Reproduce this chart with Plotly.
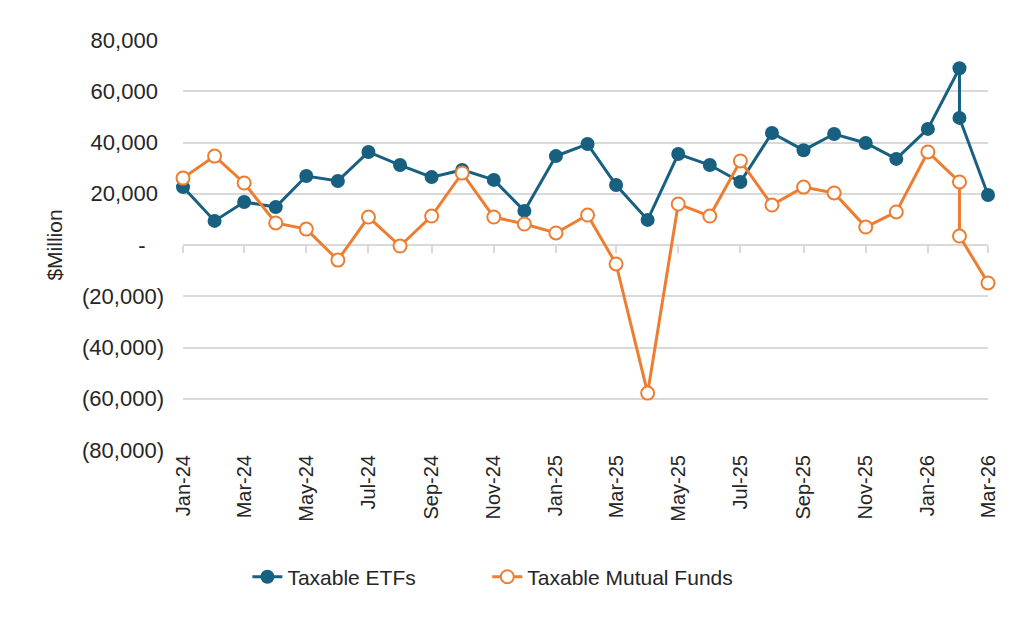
import plotly.graph_objects as go

# monthly flows, $Million (Feb-26 has two readings)
months = ['2024-01', '2024-02', '2024-03', '2024-04', '2024-05', '2024-06', '2024-07',
          '2024-08', '2024-09', '2024-10', '2024-11', '2024-12', '2025-01', '2025-02',
          '2025-03', '2025-04', '2025-05', '2025-06', '2025-07', '2025-08', '2025-09',
          '2025-10', '2025-11', '2025-12', '2026-01', '2026-02', '2026-02', '2026-03']
etfs = [22600, 9400, 16800, 14800, 26900, 25000, 36300, 31200, 26500, 29300, 25400, 13300,
        34700, 39400, 23400, 9800, 35500, 31200, 24600, 43700, 37000, 43300, 39800, 33600,
        45300, 69000, 49600, 19500]
mutual_funds = [26100, 34700, 24200, 8600, 6200, -5900, 10900, -400, 11300, 28100, 10900, 8200,
                4700, 11700, -7400, -57800, 16000, 11300, 32800, 15600, 22600, 20300, 7000, 12900,
                36300, 24600, 3500, -14800]

y_ticks = [80000, 60000, 40000, 20000, 0, -20000, -40000, -60000, -80000]
# accounting style: positives padded where the closing paren would sit
y_labels = ['80,000\u00a0', '60,000\u00a0', '40,000\u00a0', '20,000\u00a0', '-\u00a0\u00a0\u00a0',
            '(20,000)', '(40,000)', '(60,000)', '(80,000)']

blue = '#17607f'
orange = '#ed7d31'
grid = '#d9d9d9'
font = 'Liberation Sans, Arial, sans-serif'

fig = go.Figure()
fig.add_trace(go.Scatter(x=months, y=etfs, name='Taxable ETFs', mode='lines+markers',
                         line=dict(color=blue, width=3),
                         marker=dict(color=blue, size=14), cliponaxis=False,
                         legend='legend'))
fig.add_trace(go.Scatter(x=months, y=mutual_funds, name='Taxable Mutual Funds', mode='lines+markers',
                         line=dict(color=orange, width=3),
                         marker=dict(color='white', size=13, line=dict(color=orange, width=2)),
                         cliponaxis=False, legend='legend2'))
# tick marks sitting on the zero line
fig.add_trace(go.Scatter(x=[], y=[], xaxis='x2', showlegend=False, hoverinfo='skip'))

fig.update_layout(
    width=1024, height=618,
    margin=dict(l=175, r=44, t=32, b=176),
    plot_bgcolor='white', paper_bgcolor='white',
    font=dict(family=font, size=20, color='#262626'),
    showlegend=True,
    legend=dict(orientation='h', x=0.08, xanchor='left', y=-0.31, yanchor='middle',
                font=dict(size=21)),
    legend2=dict(orientation='h', x=0.378, xanchor='left', y=-0.31, yanchor='middle',
                 font=dict(size=21)),
    yaxis=dict(
        range=[-80000, 80000], tickvals=y_ticks, ticktext=y_labels,
        showgrid=True, gridcolor=grid, gridwidth=2, zeroline=False,
        showline=False, ticks='', ticklabelstandoff=18, tickfont=dict(size=22),
        title=dict(text='$Million', standoff=13, font=dict(size=21)),
    ),
    xaxis=dict(
        type='date', range=['2024-01-01', '2026-03-01'],
        dtick='M2', tick0='2024-01-01', tickformat='%b-%y', tickangle=-90,
        showgrid=False, zeroline=False, showline=False, ticks='',
        ticklabelstandoff=0,
    ),
    xaxis2=dict(
        type='date', matches='x', overlaying='x', anchor='free', position=0.5,
        dtick='M2', tick0='2024-01-01', showticklabels=False,
        ticks='outside', ticklen=7, tickwidth=2, tickcolor=grid,
        showgrid=False, zeroline=False, showline=False,
    ),
)
fig.write_html('out.html')
